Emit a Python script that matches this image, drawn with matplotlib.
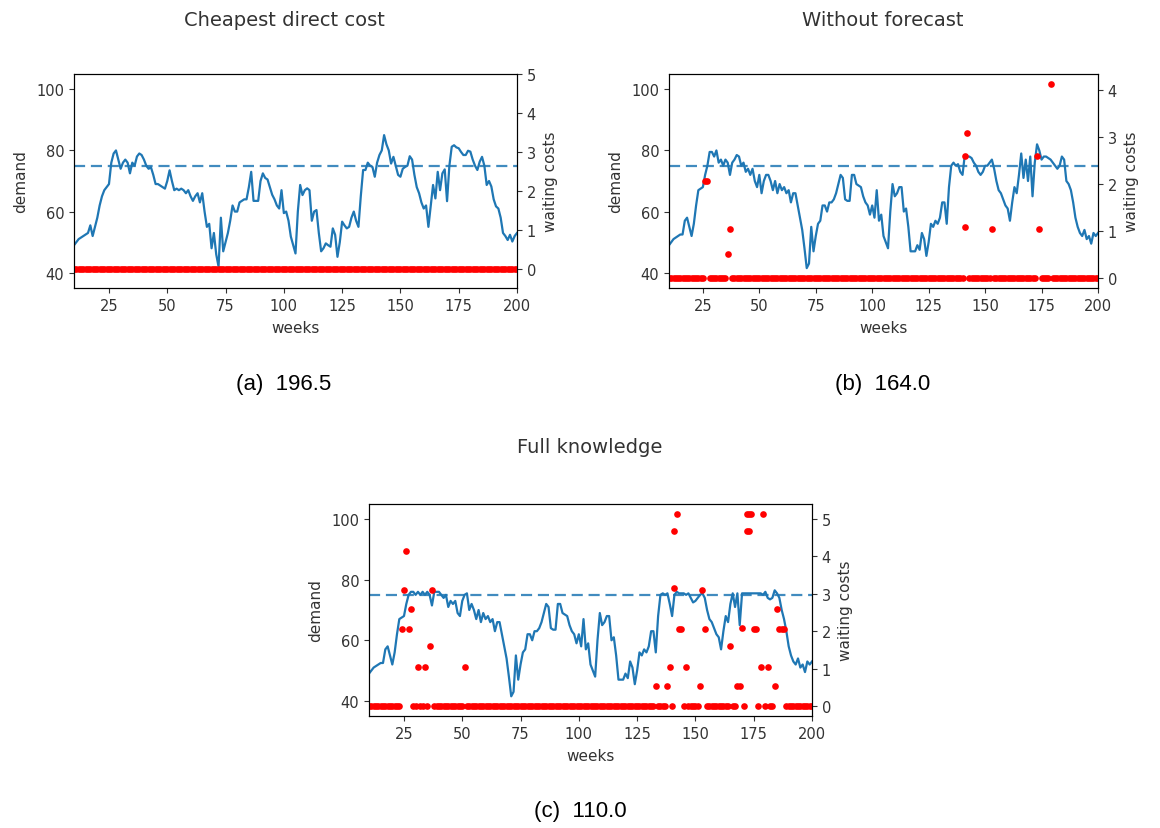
import numpy as np
import matplotlib
matplotlib.use('Agg')
import matplotlib.pyplot as plt

# plt settings
plt.rc('font', size=10.5)
plt.rc('axes', labelsize=11, labelcolor='#333333')
plt.rc('text', color='#333333')
plt.rc('xtick', color='#333333')
plt.rc('ytick', color='#333333')

W, H = 1160, 829

weeks = list(range(10, 201))

# demand per week, weeks 10..200
demand_cheapest = [
    49, 50, 51, 51.5, 52, 52.5, 53, 55.5, 52, 55,
    58, 62, 65, 67, 68, 69, 76, 79, 80, 77,
    74, 76, 77, 76, 72.5, 76, 75, 78, 79, 78.5,
    77, 75, 74, 74.5, 72, 69, 69, 68.5, 68, 67.5,
    70, 73.5, 70, 67, 67.5, 67, 67.5, 67, 66, 67,
    65, 63.5, 65, 66, 63, 66, 60, 55, 56, 48,
    53, 46, 42, 58, 47, 50, 53, 57, 62, 60,
    60, 63, 63.5, 64, 64, 68, 73, 63.5, 63.5, 63.5,
    70, 72.5, 71, 70.5, 68, 65.5, 64, 62, 61, 67,
    59.5, 60, 57, 51.8, 49, 46.3, 60, 68.7, 65.4, 67,
    67.6, 67, 57, 60, 60.5, 53, 47, 48, 49.6, 49,
    48.5, 54.5, 52.4, 45.2, 50, 56.7, 55.5, 54.5, 55, 58,
    60, 57, 55, 65, 73.6, 73.6, 76, 75, 74.6, 71.4,
    76, 78.5, 80, 85, 82, 80, 75.7, 77.9, 75, 72,
    71.4, 74, 74.6, 75, 78.1, 77, 72, 68, 66, 63,
    61, 62, 55, 62, 68.7, 64.3, 73, 67, 72.5, 73.8,
    63.4, 75, 81.2, 81.7, 81, 80.7, 79.5, 78.5, 78.5, 79.9,
    79.6, 77, 75, 73.6, 76.3, 77.9, 75, 68.7, 70, 68.2,
    64, 61.7, 61, 58, 53, 52, 50.7, 52.4, 50.2, 52,
    53,
]

demand_no_forecast = [
    49, 50, 51, 51.5, 52, 52.5, 52.5, 57, 58, 55,
    52, 56, 62, 67, 67.5, 68, 72, 75, 79.5, 79.5,
    78, 80, 76, 77, 75, 77, 76, 72, 76, 77,
    78.5, 78, 75, 76, 73, 74, 72, 74, 70, 68,
    72, 66, 70, 72, 72, 70, 67, 70, 66, 69,
    67, 68, 66, 67, 63, 66, 66, 62, 58, 54,
    48, 41.5, 43, 55, 47, 52, 56, 57, 62, 62,
    60, 63, 63, 64, 66, 69, 72, 71, 64, 63.5,
    63.5, 72, 72, 69, 68.5, 68, 65, 63, 62, 59,
    62, 58, 67, 57, 59, 52, 50, 48, 60, 69,
    65, 66, 68, 68, 60, 61, 55, 47, 47, 47,
    49, 47.5, 53, 51, 45.5, 50, 56, 55, 57, 56,
    58, 63, 63, 56, 68, 75, 76, 75, 75.5, 73,
    72, 78.5, 78, 78, 77.5, 76, 75, 73, 72, 73,
    75, 75, 76, 77, 74, 70, 67, 66, 64, 62,
    61, 57, 63, 68, 66, 72, 79, 71, 77, 70,
    78, 65, 76, 82, 80, 77, 78, 78, 77.5, 77,
    76, 75, 74, 75, 78, 77, 70, 69, 67, 63,
    58, 55, 53, 52, 54, 51, 52, 49.5, 53, 52,
    53,
]

demand_full = [
    49, 50, 51, 51.5, 52, 52.5, 52.5, 57, 58, 55,
    52, 56, 62, 67, 67.5, 68, 72, 75, 76, 76,
    75, 76, 75, 76, 75, 76, 75, 71.5, 76, 76,
    76, 75, 74, 75, 71, 73, 72, 73, 69, 68,
    73, 75, 75.5, 70, 72, 70, 67, 70, 66, 69,
    67, 68, 66, 67, 63, 66, 66, 62, 58, 54,
    48, 41.5, 43, 55, 47, 52, 56, 57, 62, 62,
    60, 63, 63, 64, 66, 69, 72, 71, 64, 63.5,
    63.5, 72, 72, 69, 68.5, 68, 65, 63, 62, 59,
    62, 58, 67, 57, 59, 52, 50, 48, 60, 69,
    65, 66, 68, 68, 60, 61, 55, 47, 47, 47,
    49, 47.5, 53, 51, 45.5, 50, 56, 55, 57, 56,
    58, 63, 63, 56, 68, 75, 75.5, 75, 75.5, 72,
    68, 75, 76, 75.5, 75.5, 75.5, 75, 75.5, 74, 72.5,
    73, 74, 75, 75.5, 74, 70, 67, 66, 64, 62,
    61, 57, 63, 68, 66, 72, 75.5, 71, 75.5, 65,
    75.5, 75.5, 75.5, 75.5, 75.5, 75.5, 75.5, 75.5, 75.5, 75,
    76, 74, 73.5, 74, 76.5, 75.5, 74, 70, 67, 63,
    58, 55, 53, 52, 54, 51, 52, 49.5, 53, 52,
    53,
]

# non-zero waiting costs as (week, cost), every other week costs 0
wait_cheapest = []
wait_no_forecast = [
    (26, 2.07), (27, 2.07), (36, 0.52), (37, 1.04), (141, 1.1),
    (141, 2.6), (142, 3.1), (153, 1.04), (173, 2.6), (174, 1.04),
    (179, 4.14),
]
wait_full = [
    (24, 2.07), (25, 3.1), (26, 4.14), (27, 2.07), (28, 2.6),
    (31, 1.04), (34, 1.04), (36, 1.6), (37, 3.1), (51, 1.04),
    (133, 0.55), (138, 0.55), (139, 1.04), (141, 3.15), (141, 4.67),
    (142, 5.14), (143, 2.07), (144, 2.07), (146, 1.04), (152, 0.55),
    (153, 3.1), (154, 2.07), (165, 1.6), (168, 0.55), (169, 0.55),
    (170, 2.1), (172, 5.14), (172, 4.67), (173, 5.14), (173, 4.67),
    (174, 5.14), (175, 2.07), (176, 2.07), (178, 1.04), (179, 5.14),
    (181, 1.04), (184, 0.55), (185, 2.6), (186, 2.07), (187, 2.07),
    (188, 2.07),
]

threshold = 75

titles = ['Cheapest direct cost', 'Without forecast', 'Full knowledge']
captions = ['(a)  196.5', '(b)  164.0', '(c)  110.0']


def px_rect(x0, y0, x1, y1):
    return [x0 / W, 1 - y1 / H, (x1 - x0) / W, (y1 - y0) / H]


def draw_panel(fig, rect, demand, waits, title, caption, title_xy, cap_xy, right_ylim=None):
    ax = fig.add_axes(px_rect(*rect))
    ax.plot(weeks, demand, color='#1f77b4', lw=1.6)
    ax.axhline(threshold, color='#1f77b4', ls=(0, (5, 2.6)), lw=1.6, alpha=0.85)
    ax.set_xlim(10, 200)
    ax.set_ylim(35, 105)
    ax.set_xticks([25, 50, 75, 100, 125, 150, 175, 200])
    ax.set_yticks([40, 60, 80, 100])
    ax.set_xlabel('weeks', labelpad=5)
    ax.set_ylabel('demand', labelpad=6)

    busy = set(w for w, c in waits)
    xs = [w for w in weeks if w not in busy] + [w for w, c in waits]
    ys = [0] * (len(xs) - len(waits)) + [c for w, c in waits]
    ax2 = ax.twinx()
    ax2.plot(xs, ys, 'o', color='red', ms=4.8, mew=0, ls='none')
    if right_ylim is not None:
        ax2.set_ylim(*right_ylim)
    ax2.set_ylabel('waiting costs', labelpad=5)
    ax2.set_xlim(10, 200)

    fig.text(title_xy[0] / W, 1 - title_xy[1] / H, title, fontsize=14,
             ha='center', va='center')
    fig.text(cap_xy[0] / W, 1 - cap_xy[1] / H, caption, fontsize=16,
             family='Liberation Sans', color='black', ha='center', va='center')
    return ax, ax2


fig = plt.figure(figsize=(W / 100, H / 100), dpi=100)

draw_panel(fig, (74, 75, 517, 289), demand_cheapest, wait_cheapest,
           titles[0], captions[0], (284, 20), (284, 385), right_ylim=(-0.5, 5))
draw_panel(fig, (669, 75, 1098, 289), demand_no_forecast, wait_no_forecast,
           titles[1], captions[1], (883, 20), (883, 385))
draw_panel(fig, (369, 505, 812, 717), demand_full, wait_full,
           titles[2], captions[2], (590, 448), (580, 812))

fig.savefig('out.png', dpi=100)
